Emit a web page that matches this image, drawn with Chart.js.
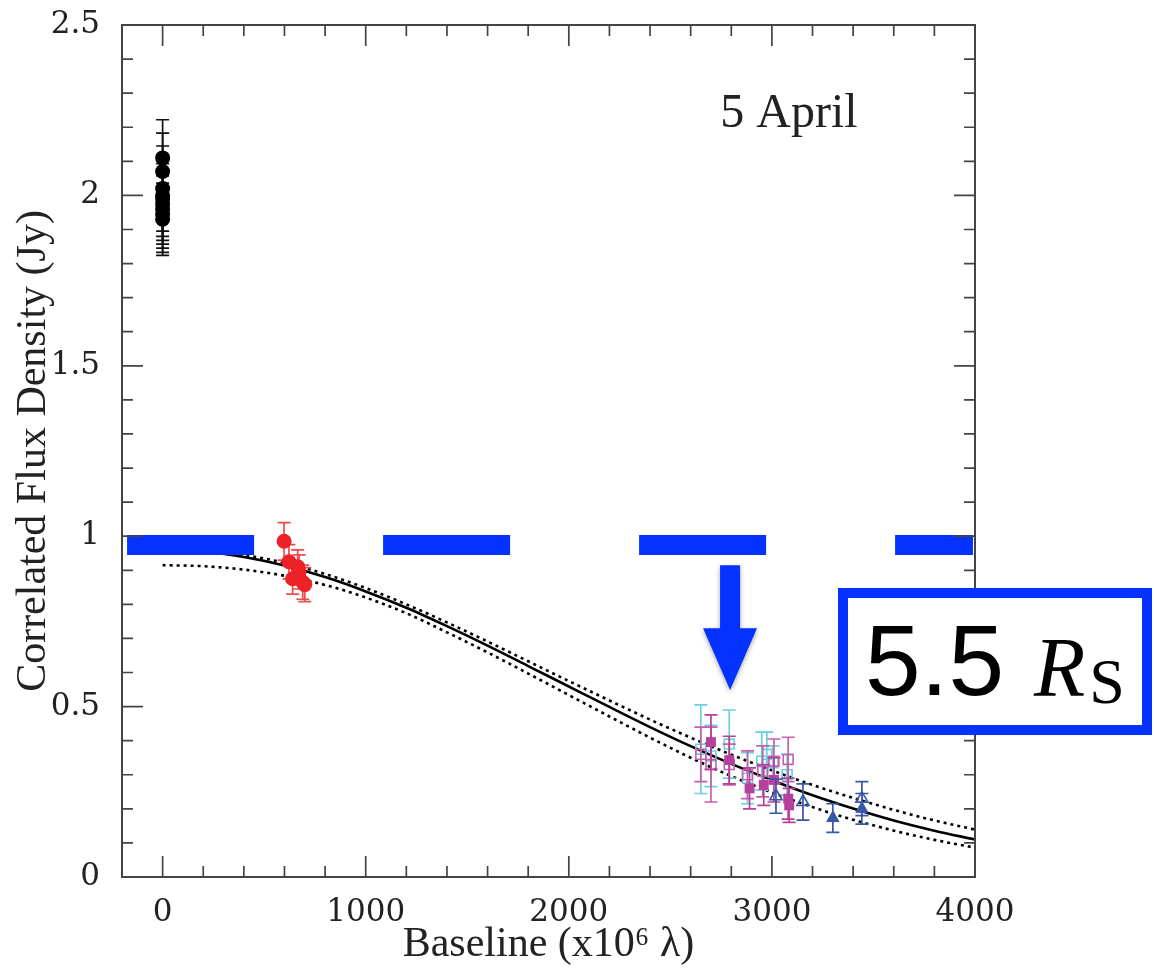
<!DOCTYPE html>
<html>
<head>
<meta charset="utf-8">
<script src="https://cdn.jsdelivr.net/npm/chart.js@4/dist/chart.umd.min.js"></script>
<style>
  html, body { margin: 0; padding: 0; background: #ffffff; }
  #wrap { width: 1154px; height: 970px; position: relative; }
</style>
</head>
<body>
<div id="wrap"><canvas id="c" width="1154" height="970"></canvas></div>
<script>
// ---------- axis ticks ----------
const xMajorTicks = [0, 1000, 2000, 3000, 4000];
const xTickLabels = ['0', '1000', '2000', '3000', '4000'];
const yMajorTicks = [0, 0.5, 1, 1.5, 2, 2.5];
const yTickLabels = ['0', '0.5', '1', '1.5', '2', '2.5'];

// ---------- data: black circles (zero baseline) ----------
const blackX   = [0, 0, 0, 0, 0, 0, 0, 0, 0];
const blackY   = [2.11, 2.07, 2.02, 2.00, 1.99, 1.975, 1.96, 1.945, 1.93];
const blackErr = [0.112, 0.113, 0.125, 0.12, 0.122, 0.118, 0.115, 0.112, 0.106];

// ---------- red circles ----------
const redX   = [598, 622, 665, 640, 672, 690, 700];
const redY   = [0.985, 0.925, 0.91, 0.875, 0.895, 0.865, 0.858];
const redErr = [0.055, 0.05, 0.05, 0.045, 0.05, 0.05, 0.05];

// ---------- cyan open squares ----------
const cyanOpenX   = [2650, 2700, 2790, 2880, 2950, 2975, 3005, 3075];
const cyanOpenY   = [0.375, 0.355, 0.39, 0.29, 0.34, 0.36, 0.335, 0.30];
const cyanOpenErr = [0.13, 0.09, 0.10, 0.075, 0.085, 0.065, 0.05, 0.06];

// ---------- magenta open squares ----------
const magOpenX   = [2650, 2700, 2790, 2880, 2955, 3010, 3080];
const magOpenY   = [0.36, 0.33, 0.33, 0.30, 0.31, 0.34, 0.345];
const magOpenErr = [0.08, 0.11, 0.06, 0.07, 0.075, 0.065, 0.065];

// ---------- magenta filled squares ----------
const magFillX   = [2700, 2790, 2890, 2960, 3010, 3080, 3085];
const magFillY   = [0.396, 0.343, 0.26, 0.27, 0.285, 0.23, 0.21];
const magFillErr = [0.08, 0.07, 0.06, 0.06, 0.065, 0.06, 0.05];

// ---------- blue triangles ----------
const blueOpenX   = [3020, 3153, 3443];
const blueOpenY   = [0.237, 0.22, 0.23];
const blueOpenErr = [0.05, 0.053, 0.05];
const blueFillX   = [3300, 3443];
const blueFillY   = [0.173, 0.20];
const blueFillErr = [0.042, 0.045];

// ---------- model curves ----------
const curveX     = [0, 200, 400, 600, 800, 1000, 1200, 1400, 1600, 1800, 2000, 2200, 2400, 2600, 2800, 3000, 3200, 3400, 3600, 3800, 4000];
const fitY       = [0.960, 0.955, 0.939, 0.914, 0.880, 0.838, 0.790, 0.736, 0.679, 0.619, 0.559, 0.499, 0.440, 0.384, 0.332, 0.284, 0.240, 0.201, 0.166, 0.136, 0.110];
const upperY     = [0.962, 0.958, 0.945, 0.922, 0.889, 0.848, 0.800, 0.747, 0.691, 0.633, 0.575, 0.518, 0.462, 0.409, 0.359, 0.313, 0.270, 0.232, 0.197, 0.166, 0.139];
const lowerY     = [0.915, 0.912, 0.902, 0.884, 0.857, 0.820, 0.774, 0.718, 0.659, 0.597, 0.534, 0.471, 0.409, 0.350, 0.296, 0.248, 0.205, 0.168, 0.136, 0.109, 0.086];

// ---------- annotations ----------
const barX = [-175, 3990];
const barY = [0.974, 0.974];
const arrowX = 2794, arrowTop = 0.915, arrowHeadBase = 0.73, arrowTip = 0.549;
const dateLabel = '5 April';
const dateX = 3084, dateY = 2.20;

const pts = (xs, ys) => xs.map((x, i) => ({x: x, y: ys[i]}));

const BLUE = '#0433ff';
const CYAN = '#6ccfe0';
const MAG = '#b8409a';
const NAVY = '#3658a8';

const datasets = [
  { label: 'bar', data: pts(barX, barY), showLine: true, borderColor: BLUE, borderWidth: 20,
    borderDash: [127, 129], borderCapStyle: 'butt', pointRadius: 0, fill: false },
  { label: 'black', data: pts(blackX, blackY), err: blackErr, errColor: '#111', cap: 13,
    pointStyle: 'circle', pointRadius: 7.5, backgroundColor: '#000', borderColor: '#000', borderWidth: 0 },
  { label: 'red', data: pts(redX, redY), err: redErr, errColor: '#f04a4a', cap: 13,
    pointStyle: 'circle', pointRadius: 7.5, backgroundColor: '#ec2228', borderColor: '#ec2228', borderWidth: 0 },
  { label: 'blueFill', data: pts(blueFillX, blueFillY), err: blueFillErr, errColor: NAVY, cap: 13,
    pointStyle: 'triangle', pointRadius: 7, backgroundColor: NAVY, borderColor: NAVY, borderWidth: 1 },
  { label: 'blueOpen', data: pts(blueOpenX, blueOpenY), err: blueOpenErr, errColor: NAVY, cap: 13,
    pointStyle: 'triangle', pointRadius: 7, backgroundColor: 'rgba(255,255,255,0)', borderColor: NAVY, borderWidth: 1.6 },
  { label: 'magFill', data: pts(magFillX, magFillY), err: magFillErr, errColor: MAG, cap: 13,
    pointStyle: 'rect', pointRadius: 7, backgroundColor: MAG, borderColor: MAG, borderWidth: 0 },
  { label: 'magOpen', data: pts(magOpenX, magOpenY), err: magOpenErr, errColor: '#c660ae', cap: 13,
    pointStyle: 'rect', pointRadius: 7, backgroundColor: 'rgba(255,255,255,0)', borderColor: '#c660ae', borderWidth: 1.6 },
  { label: 'cyanOpen', data: pts(cyanOpenX, cyanOpenY), err: cyanOpenErr, errColor: CYAN, cap: 13,
    pointStyle: 'rect', pointRadius: 7, backgroundColor: 'rgba(255,255,255,0)', borderColor: CYAN, borderWidth: 1.6 },
  { label: 'fit', data: pts(curveX, fitY), showLine: true, borderColor: '#000', borderWidth: 2.6,
    pointRadius: 0, fill: false, cubicInterpolationMode: 'monotone' },
  { label: 'upper', data: pts(curveX, upperY), showLine: true, borderColor: '#000', borderWidth: 2.6,
    borderDash: [3, 4], pointRadius: 0, fill: false, cubicInterpolationMode: 'monotone' },
  { label: 'lower', data: pts(curveX, lowerY), showLine: true, borderColor: '#000', borderWidth: 2.6,
    borderDash: [3, 4], pointRadius: 0, fill: false, cubicInterpolationMode: 'monotone' }
];

const errorBars = {
  id: 'errorBars',
  beforeDatasetDraw(chart, args) {
    const ds = chart.data.datasets[args.index];
    if (!ds.err) return;
    const {ctx, scales: {x, y}} = chart;
    ctx.save();
    ctx.strokeStyle = ds.errColor;
    ctx.lineWidth = 1.7;
    const hw = ds.cap / 2;
    ds.data.forEach((p, i) => {
      const px = x.getPixelForValue(p.x);
      const yt = y.getPixelForValue(p.y + ds.err[i]);
      const yb = y.getPixelForValue(p.y - ds.err[i]);
      ctx.beginPath();
      ctx.moveTo(px, yt); ctx.lineTo(px, yb);
      ctx.moveTo(px - hw, yt); ctx.lineTo(px + hw, yt);
      ctx.moveTo(px - hw, yb); ctx.lineTo(px + hw, yb);
      ctx.stroke();
    });
    ctx.restore();
  }
};

const frameAndAnnotations = {
  id: 'frameAndAnnotations',
  afterDatasetsDraw(chart) {
    const {ctx, chartArea: a, scales: {x, y}} = chart;
    ctx.save();
    // frame
    ctx.strokeStyle = '#444';
    ctx.lineWidth = 2;
    ctx.strokeRect(a.left, a.top, a.right - a.left, a.bottom - a.top);
    // ticks (inward on all four sides)
    ctx.lineWidth = 1.7;
    ctx.beginPath();
    for (let v = -200; v <= 4000; v += 200) {
      const px = x.getPixelForValue(v);
      if (px <= a.left + 1 || px >= a.right - 1) continue;
      const len = xMajorTicks.includes(v) ? 21 : 11;
      ctx.moveTo(px, a.bottom); ctx.lineTo(px, a.bottom - len);
      ctx.moveTo(px, a.top); ctx.lineTo(px, a.top + len);
    }
    for (let k = 1; k < 25; k++) {
      const py = y.getPixelForValue(k / 10);
      const len = (k % 5 === 0) ? 21 : 11;
      ctx.moveTo(a.left, py); ctx.lineTo(a.left + len, py);
      ctx.moveTo(a.right, py); ctx.lineTo(a.right - len, py);
    }
    ctx.stroke();

    // date label
    ctx.fillStyle = '#222';
    ctx.font = '48px "Liberation Serif"';
    ctx.textAlign = 'center';
    ctx.textBaseline = 'alphabetic';
    ctx.fillText(dateLabel, x.getPixelForValue(dateX), y.getPixelForValue(dateY));

    // arrow
    const ax = x.getPixelForValue(arrowX);
    const aTop = y.getPixelForValue(arrowTop);
    const aBase = y.getPixelForValue(arrowHeadBase);
    const aTip = y.getPixelForValue(arrowTip);
    ctx.shadowColor = 'rgba(0,0,0,0.35)';
    ctx.shadowBlur = 5;
    ctx.shadowOffsetY = 2;
    ctx.fillStyle = BLUE;
    ctx.beginPath();
    ctx.moveTo(ax - 10, aTop);
    ctx.lineTo(ax + 10, aTop);
    ctx.lineTo(ax + 10, aBase);
    ctx.lineTo(ax + 27, aBase);
    ctx.lineTo(ax, aTip);
    ctx.lineTo(ax - 27, aBase);
    ctx.lineTo(ax - 10, aBase);
    ctx.closePath();
    ctx.fill();
    ctx.shadowColor = 'rgba(0,0,0,0)';
    ctx.shadowBlur = 0;
    ctx.shadowOffsetY = 0;

    // label box
    const bx = a.right - 137, by = a.top + 563, bw = 314, bh = 147;
    ctx.fillStyle = '#fff';
    ctx.fillRect(bx, by, bw, bh);
    ctx.strokeStyle = BLUE;
    ctx.lineWidth = 10;
    ctx.strokeRect(bx + 5, by + 5, bw - 10, bh - 10);
    ctx.fillStyle = '#000';
    ctx.textAlign = 'left';
    ctx.font = '100px "Liberation Sans"';
    ctx.fillText('5.5', bx + 27, by + 107);
    ctx.font = 'italic 84px "Liberation Serif"';
    const rx = bx + 196;
    ctx.fillText('R', rx, by + 108);
    const rw = ctx.measureText('R').width;
    ctx.font = '64px "Liberation Serif"';
    ctx.fillText('S', rx + rw + 4, by + 115);
    ctx.restore();
  }
};

new Chart(document.getElementById('c'), {
  type: 'scatter',
  data: { datasets: datasets },
  options: {
    responsive: false,
    animation: false,
    layout: { padding: { left: 0, right: 179, top: 25, bottom: 0 } },
    plugins: { legend: { display: false }, tooltip: { enabled: false } },
    scales: {
      x: {
        type: 'linear', min: -200, max: 4000,
        grid: { display: false }, border: { display: false },
        afterBuildTicks: (s) => { s.ticks = xMajorTicks.map(v => ({value: v})); },
        afterFit: (s) => { s.height = 93; s.paddingLeft = 0; s.paddingRight = 0; },
        ticks: {
          padding: 9, color: '#222', maxRotation: 0,
          font: { family: '"DejaVu Serif"', size: 31 },
          callback: (v) => xTickLabels[xMajorTicks.indexOf(v)]
        },
        title: {
          display: true, text: 'Baseline (x10\u2076 \u03bb)', color: '#222',
          font: { family: '"Liberation Serif"', size: 42 },
          padding: { top: 0, bottom: 0 }
        }
      },
      y: {
        type: 'linear', min: 0, max: 2.5,
        grid: { display: false }, border: { display: false },
        afterBuildTicks: (s) => { s.ticks = yMajorTicks.map(v => ({value: v})); },
        afterFit: (s) => { s.width = 122; s.paddingTop = 0; s.paddingBottom = 0; },
        ticks: {
          padding: 14, color: '#222',
          font: { family: '"DejaVu Serif"', size: 31 },
          callback: (v) => yTickLabels[yMajorTicks.indexOf(v)]
        },
        title: {
          display: true, text: 'Correlated Flux Density (Jy)', color: '#222',
          font: { family: '"Liberation Serif"', size: 42 },
          padding: { top: 9, bottom: 0 }
        }
      }
    }
  },
  plugins: [errorBars, frameAndAnnotations]
});
</script>
</body>
</html>
